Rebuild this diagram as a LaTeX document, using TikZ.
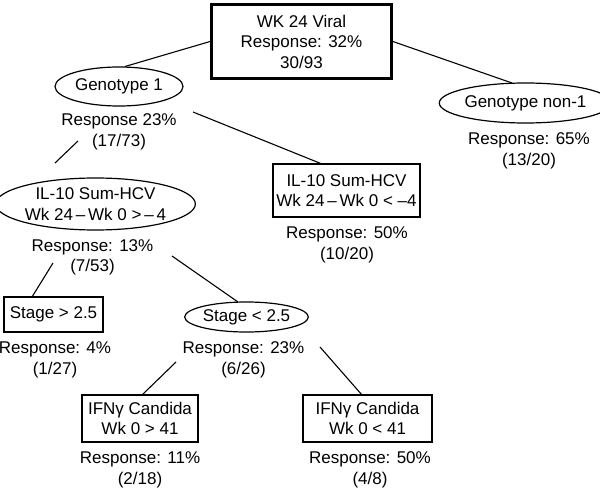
\documentclass[tikz,border=0pt]{standalone}
\usepackage{fontspec}
\setmainfont{Liberation Sans}
\usetikzlibrary{shapes.geometric,calc}
\begin{document}
\begin{tikzpicture}[x=1pt,y=-1pt,
  every node/.style={font=\fontsize{17}{20.5}\selectfont, align=center, inner sep=0pt},
  rootbox/.style={draw, line width=2.8pt, minimum width=180pt, minimum height=74pt},
  ebox/.style={draw, ellipse, line width=1.2pt},
  rbox/.style={draw, rectangle, line width=1.1pt},
  lbl/.style={},
  conn/.style={line width=1.1pt}]
\useasboundingbox (0,0) rectangle (600,489);
% nodes
\node[rootbox] (root) at (301.5,41.5) {WK 24 Viral\\Response: 32\%\\30/93};
\node[ebox, minimum width=128pt, minimum height=39pt] (g1) at (119,86.5) {Genotype 1};
\node[lbl] (g1r) at (119,132) {Response 23\%\\(17/73)};
\node[ebox, minimum width=145pt, minimum height=40pt] (n1) at (525.5,103) {Genotype non-1};
\node[lbl] (n1r) at (529,151) {Response: 65\%\\(13/20)};
\node[ebox, minimum width=175pt, minimum height=52pt] (il1) at (95.5,204) {IL-10 Sum-HCV\\Wk 24\,–\,Wk 0 >\,–\,4};
\node[lbl] (il1r) at (92.5,257.5) {Response: 13\%\\(7/53)};
\node[rbox, minimum width=147pt, minimum height=53pt] (il2) at (346.5,190.5) {IL-10 Sum-HCV\\Wk 24\,–\,Wk 0 < –4};
\node[lbl] (il2r) at (347,245) {Response: 50\%\\(10/20)};
\node[rbox, minimum width=99pt, minimum height=35pt] (s1) at (53.5,314.5) {Stage > 2.5};
\node[lbl] (s1r) at (55,360) {Response: 4\%\\(1/27)};
\node[ebox, minimum width=111pt, minimum height=30pt] (s2) at (246.5,317) {Stage < 2.5};
\node[lbl] (s2r) at (243.5,360) {Response: 23\%\\(6/26)};
\node[rbox, minimum width=116pt, minimum height=47pt] (f1) at (140,418.5) {IFNγ Candida\\Wk 0 > 41};
\node[lbl] (f1r) at (140,470) {Response: 11\%\\(2/18)};
\node[rbox, minimum width=129pt, minimum height=47pt] (f2) at (367.5,418.5) {IFNγ Candida\\Wk 0 < 41};
\node[lbl] (f2r) at (370,470) {Response: 50\%\\(4/8)};
% connector ends
\coordinate (c1) at (125,66.5);
\coordinate (c2) at (512,83);
\coordinate (c3a) at (78,141);
\coordinate (c3b) at (55,163);
\coordinate (c4a) at (193,112);
\coordinate (c4b) at (322,164);
\coordinate (c5a) at (53,263);
\coordinate (c5b) at (32,297);
\coordinate (c6a) at (172,256);
\coordinate (c6b) at (238,302);
\coordinate (c7a) at (176,362);
\coordinate (c7b) at (142,395);
\coordinate (c8a) at (320,347);
\coordinate (c8b) at (362,395);
% connectors
\draw[conn] (root.west) -- (c1);
\draw[conn] (root.east) -- (c2);
\draw[conn] (c3a) -- (c3b);
\draw[conn] (c4a) -- (c4b);
\draw[conn] (c5a) -- (c5b);
\draw[conn] (c6a) -- (c6b);
\draw[conn] (c7a) -- (c7b);
\draw[conn] (c8a) -- (c8b);
\end{tikzpicture}
\end{document}
